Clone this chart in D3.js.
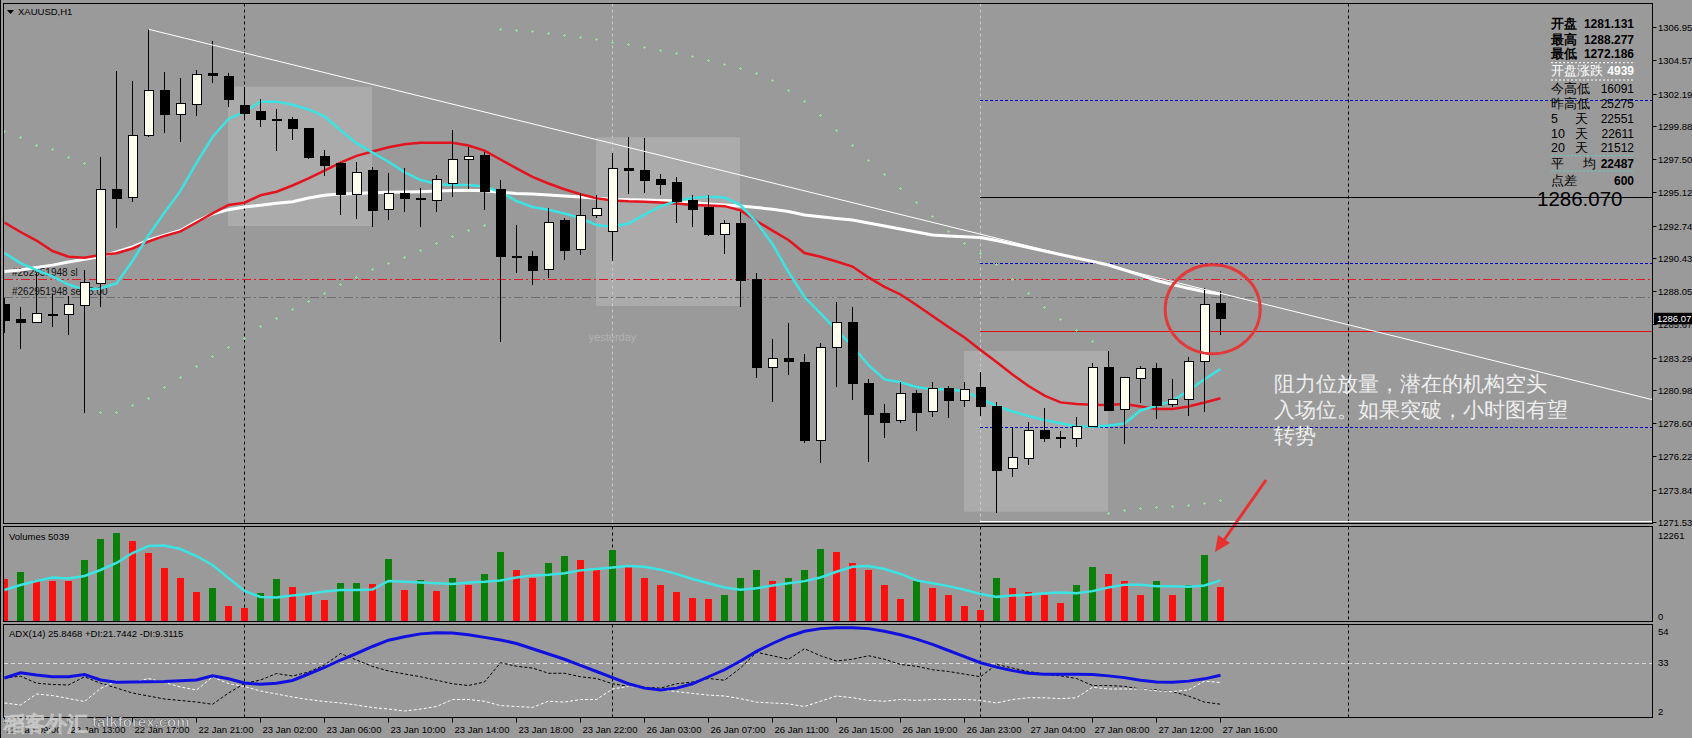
<!DOCTYPE html>
<html><head><meta charset="utf-8">
<script src="https://cdn.jsdelivr.net/npm/d3@7/dist/d3.min.js"></script>
<style>
html,body{margin:0;padding:0;background:#9a9a9a;overflow:hidden;}
svg{display:block;}
text{font-family:"Liberation Sans",Arial,sans-serif;}
</style></head>
<body>
<svg id="chart" width="1692" height="738"></svg>
<script>
// ---------------- DATA ----------------
const opens=[1287.06,1286.03,1285.82,1286.41,1286.39,1287.01,1288.61,1295.34,1294.76,1299.17,
1302.42,1300.67,1301.42,1303.62,1303.44,1301.30,1300.87,1300.35,1300.30,1299.70,
1297.65,1297.15,1294.93,1296.65,1293.91,1295.05,1294.66,1294.57,1295.77,1297.48,
1297.72,1295.29,1290.52,1290.56,1289.61,1293.07,1291.04,1293.45,1292.33,1296.84,
1296.65,1296.07,1295.79,1294.50,1294.02,1292.12,1292.90,1288.85,1282.60,1283.24,
1282.96,1277.35,1284.03,1285.82,1281.46,1279.26,1278.78,1280.74,1279.42,1281.10,
1280.21,1281.13,1279.83,1275.37,1276.09,1278.06,1277.53,1277.52,1278.35,1282.55,
1279.59,1281.81,1282.53,1279.95,1280.31,1283.00,1287.18];
const highs=[1287.56,1286.94,1289.33,1287.85,1287.70,1289.56,1297.67,1303.82,1303.09,1306.79,
1303.71,1303.32,1303.87,1305.95,1303.64,1302.68,1301.82,1301.06,1300.49,1299.72,
1298.15,1297.31,1297.31,1296.95,1296.48,1296.84,1295.41,1296.36,1299.58,1298.39,
1298.03,1296.00,1292.78,1290.94,1294.02,1293.26,1295.09,1294.93,1297.91,1299.10,
1298.99,1296.43,1296.20,1294.93,1294.93,1293.14,1293.73,1289.33,1284.60,1285.79,
1283.55,1284.32,1287.29,1286.89,1281.74,1279.97,1281.57,1280.98,1281.53,1281.28,
1281.53,1282.29,1280.14,1278.24,1278.71,1279.67,1278.04,1279.02,1282.89,1283.77,
1281.90,1282.69,1282.93,1281.76,1283.36,1288.28,1288.06];
const lows=[1285.05,1283.89,1285.75,1285.46,1284.91,1279.31,1286.94,1292.55,1294.45,1299.10,
1299.34,1298.74,1300.58,1302.96,1301.25,1300.30,1299.82,1298.10,1298.86,1297.48,
1296.31,1293.50,1293.21,1292.66,1293.14,1293.73,1292.66,1293.73,1294.81,1295.34,
1293.86,1284.43,1289.33,1288.49,1288.97,1290.28,1290.64,1293.26,1290.21,1295.00,
1295.09,1294.93,1292.90,1292.66,1292.02,1290.71,1286.94,1281.81,1280.14,1282.03,
1277.16,1275.77,1281.21,1280.26,1275.84,1277.52,1278.64,1278.06,1279.06,1278.95,
1279.74,1279.12,1272.19,1274.77,1275.61,1277.28,1276.80,1276.92,1278.31,1279.49,
1277.11,1280.07,1278.90,1279.78,1279.14,1279.38,1284.91];
const closes=[1285.98,1285.82,1286.46,1286.38,1287.11,1288.68,1295.34,1294.69,1299.17,1302.42,
1300.67,1301.46,1303.57,1303.50,1301.73,1300.75,1300.35,1300.30,1299.67,1297.60,
1297.05,1294.98,1296.52,1293.81,1295.05,1294.69,1294.62,1296.05,1297.48,1297.70,
1295.17,1290.51,1290.55,1289.51,1292.98,1290.94,1293.48,1293.98,1296.84,1296.67,
1295.95,1295.67,1294.45,1293.91,1292.07,1292.90,1288.80,1282.60,1283.24,1283.03,
1277.35,1284.03,1285.82,1281.46,1279.19,1278.66,1280.74,1279.35,1281.10,1280.21,
1280.98,1279.78,1275.20,1276.16,1278.06,1277.47,1277.58,1278.35,1282.60,1279.54,
1281.88,1282.53,1279.85,1280.31,1283.00,1287.11,1286.07];

// moving averages (price)
const maFast=[1290.78,1290.06,1289.56,1289.10,1288.52,1288.17,1288.24,1288.60,1290.21,1292.03,
1293.68,1295.22,1297.22,1299.08,1300.37,1300.87,1301.61,1301.61,1301.39,1301.05,
1300.55,1299.56,1298.64,1297.96,1297.31,1296.57,1296.00,1295.72,1295.64,1295.64,
1295.54,1295.14,1294.50,1294.07,1293.87,1293.61,1293.28,1292.78,1292.66,1292.89,
1293.53,1294.11,1294.50,1294.71,1294.80,1294.75,1294.21,1293.00,1291.42,1289.42,
1287.63,1286.45,1285.27,1284.12,1282.76,1281.73,1281.53,1281.19,1281.01,1281.05,
1280.87,1280.37,1279.83,1279.44,1279.12,1278.83,1278.59,1278.39,1278.35,1278.44,
1278.58,1279.51,1279.85,1280.20,1280.94,1281.74,1282.48];
const maMid=[1292.96,1292.28,1291.67,1290.92,1290.51,1290.44,1290.64,1290.76,1291.10,1291.60,
1292.00,1292.32,1292.96,1293.61,1294.21,1294.38,1294.91,1295.16,1295.61,1296.12,
1296.68,1297.25,1297.73,1298.04,1298.34,1298.56,1298.67,1298.67,1298.66,1298.47,
1298.11,1297.47,1296.83,1296.22,1295.75,1295.34,1294.98,1294.69,1294.54,1294.48,
1294.45,1294.40,1294.32,1294.21,1294.18,1294.13,1293.83,1293.07,1292.38,1291.71,
1290.78,1290.51,1290.17,1289.81,1289.03,1288.35,1287.81,1287.06,1286.27,1285.48,
1284.73,1283.84,1282.98,1282.08,1281.26,1280.58,1280.09,1279.97,1279.92,1279.90,
1279.97,1279.79,1279.62,1279.62,1279.79,1280.08,1280.38];
const maSlow=[1289.45,1289.56,1289.74,1289.91,1290.13,1290.33,1290.52,1290.86,1291.21,1291.69,
1292.05,1292.39,1293.05,1293.57,1293.88,1294.07,1294.20,1294.34,1294.45,1294.72,
1294.91,1295.00,1295.04,1295.09,1295.12,1295.14,1295.17,1295.22,1295.25,1295.27,
1295.23,1295.12,1295.04,1295.00,1294.93,1294.86,1294.79,1294.70,1294.63,1294.59,
1294.57,1294.54,1294.51,1294.39,1294.29,1294.21,1294.14,1294.03,1293.91,1293.75,
1293.50,1293.37,1293.25,1293.14,1292.93,1292.71,1292.50,1292.28,1292.07,1292.00,
1291.94,1291.89,1291.67,1291.42,1291.17,1290.92,1290.67,1290.42,1290.18,1289.92,
1289.56,1289.20,1288.81,1288.52,1288.25,1288.01,1287.85];
const sar=[1299.53,1299.06,1298.49,1298.20,1297.67,1297.20,1279.38,1279.38,1279.90,1280.42,
1281.17,1281.93,1282.71,1283.41,1284.07,1284.67,1285.56,1286.15,1286.75,1287.34,
1287.94,1288.54,1289.08,1289.61,1290.08,1290.47,1290.99,1291.52,1292.00,1292.42,
1292.76,1306.81,1306.74,1306.63,1306.52,1306.38,1306.23,1306.06,1305.88,1305.70,
1305.52,1305.30,1305.09,1304.84,1304.59,1304.30,1304.02,1303.66,1303.16,1302.44,
1301.66,1300.65,1299.58,1298.51,1297.43,1296.43,1295.43,1294.43,1293.43,1292.37,
1291.47,1290.76,1289.97,1288.90,1287.94,1286.94,1286.08,1285.27,1284.50,1272.15,
1272.39,1272.51,1272.58,1272.68,1272.75,1272.91,1273.10];

const volumes=[5795,6815,5656,5558,5530,8449,11381,12261,11144,9468,
7373,5977,4022,4580,2025,1704,3882,5837,4720,3743,
2863,5195,5279,5139,8630,4200,5600,4100,6000,5000,
6500,9500,7000,6000,8000,9000,8500,7000,9800,7500,
6000,5000,4000,3200,3000,3500,6000,7000,5500,6000,
7000,10000,9500,8000,7000,5000,3000,5500,4500,3500,
2000,1500,6000,4500,4000,3500,2500,5000,7500,6500,
5500,3500,5500,3500,5000,9200,4700];
const volMA=[4259,4958,5516,6005,5865,6214,7052,8030,9426,10404,
10474,9985,9007,7751,5935,4120,3282,3212,3491,3701,
4050,4259,4259,4329,5516,5400,5300,5200,5100,5300,
5400,5600,6000,6300,6400,6600,7000,7200,7400,7600,
7500,7100,6500,5800,5200,4600,4300,4500,4900,5200,
5500,6000,6800,7500,7600,7200,6500,5600,5200,4800,
4300,3700,3300,3500,3600,3800,3900,3800,4100,4600,
5000,5000,4800,4800,4700,4900,5600];

const adxMain=[24.29,27.31,26.00,25.03,25.03,26.29,23.14,21.83,22.00,22.17,
22.29,22.69,23.14,25.60,23.83,21.43,20.69,21.26,22.86,26.57,
30.29,34.57,38.29,42.29,45.89,47.89,49.5,50.2,50.0,49.0,
47.5,46.0,44.0,41.0,38.0,35.0,31.5,28.0,24.5,21.0,
18.5,17.5,18.5,21.0,25.0,29.0,34.0,39.5,44.0,48.0,
51.0,52.5,53.0,53.0,52.5,51.0,49.0,46.5,43.5,40.0,
36.5,33.0,30.5,28.5,27.0,26.5,26.5,26.5,26.3,25.5,
24.5,23.0,22.0,21.8,22.5,23.8,25.85];
const diPlus=[10.0,8.86,15.14,14.29,12.57,10.86,18.29,22.57,21.71,24.0,
21.71,19.14,17.43,24.86,21.14,19.43,16.86,15.14,13.43,12.0,
10.86,10.0,8.86,7.43,6.57,5.43,6.5,8,12,12,
11,8.5,8,7.5,11,10.5,12,12,18,19.5,
18.5,17.5,16.5,15.5,14.5,14,12.5,10.5,10,9.5,
8,11,14,13,11.5,11,12,11.5,12,12,
12,11.5,10,12,13,13,12.5,13,19,18,
18,18,17,16.5,17.5,22.5,21.74];
const diMinus=[24.29,25.31,21.31,20.57,20.29,24.97,21.26,18.57,15.71,14.0,
12.29,11.43,10.57,9.26,15.71,21.14,23.14,26.86,25.43,27.71,
31.71,38.29,34.57,30.86,28.29,26.57,25,23,21,20,
22,33,31,30,27,27,25,24,21,19.5,
19,18.5,21,22,24,23,30,39,37,35,
41,37,34,35,37,35,32,31,29,28,
26.5,25,32,30,28,26.5,25.5,24,20,20,
19.5,18,17.5,16.5,14,10.5,9.31];

const priceTicks=[1306.95,1304.57,1302.19,1299.88,1297.50,1295.12,1292.74,1290.43,1288.05,1285.67,1283.29,1280.98,1278.60,1276.22,1273.84,1271.53];
const xTickBars=[0,4,8,12,16,20,24,28,32,36,40,44,48,52,56,60,64,68,72,76];
const xTickLabels=["22 Jan 09:00","22 Jan 13:00","22 Jan 17:00","22 Jan 21:00","23 Jan 02:00","23 Jan 06:00","23 Jan 10:00","23 Jan 14:00","23 Jan 18:00","23 Jan 22:00","26 Jan 03:00","26 Jan 07:00","26 Jan 11:00","26 Jan 15:00","26 Jan 19:00","26 Jan 23:00","27 Jan 04:00","27 Jan 08:00","27 Jan 12:00","27 Jan 16:00"];
const separatorBars=[15,38,61,84];
const boxFrom=[14,37,60], boxTo=[23,46,69], boxHigh=[1302.68,1299.06,1283.77], boxLow=[1292.71,1286.99,1272.27];
const levelPrices=[1301.73,1294.76,1290.08,1288.94,1287.61,1285.22,1278.35,1271.57];
const levelFrom=[61,61,61,0,0,61,61,61];
const levelKinds=["blue","black","blue","sl","open","red","blue","white"];
const trendBars=[9,103], trendPrices=[1306.79,1280.28];
const infoLabels=["开盘","最高","最低","开盘涨跌","今高低","昨高低","5","10","20","平","点差"];
const infoLabels2=["","","","","","","天","天","天","均",""];
const infoValues=["1281.131","1288.277","1272.186","4939","16091","25275","22551","22611","21512","22487","600"];
const noteLines=["阻力位放量，潜在的机构空头","入场位。如果突破，小时图有望","转势"];
const lastPrice=1286.07, bigPrice="1286.070";
const volMax=12261, adxTicks=[54,33,2];

// ---------------- LAYOUT ----------------
const svg=d3.select('#chart');
const BG="#9a9a9a";
const L=3.5, R=1652.5;
const mainTop=3.5, mainBot=523.5, volTop=526.5, volBot=621.5, adxTop=624.5, adxBot=717.5;
const x=d3.scaleLinear().domain([0,76]).range([4.5,1220.5]);
const yP=d3.scaleLinear().domain([1271.53,1306.95]).range([522,27]);
const yV=d3.scaleLinear().domain([0,volMax]).range([620.5,532.7]);
const yA=d3.scaleLinear().domain([2,54]).range([717,626]);
const idx=d3.range(opens.length);

svg.append('rect').attr('width',1692).attr('height',738).attr('fill',BG);
const defs=svg.append('defs');
function clip(id,y0,y1){defs.append('clipPath').attr('id',id).append('rect').attr('x',4).attr('y',y0).attr('width',1648).attr('height',y1-y0);}
clip('cm',4,523);clip('cv',527,621);clip('ca',625,717);

// ---------- MAIN ----------
const gm=svg.append('g').attr('clip-path','url(#cm)');
gm.selectAll('rect.box').data(boxFrom).join('rect')
 .attr('x',(d,i)=>x(boxFrom[i])-0.5).attr('width',(d,i)=>x(boxTo[i])-x(boxFrom[i]))
 .attr('y',(d,i)=>yP(boxHigh[i])).attr('height',(d,i)=>yP(boxLow[i])-yP(boxHigh[i]))
 .attr('fill','#ababab');

separatorBars.forEach((b,i)=>{
  gm.append('line').attr('x1',x(b)).attr('x2',x(b)).attr('y1',mainTop).attr('y2',mainBot)
   .attr('stroke',(b===38||b===61)?'#c9c9c9':'#000').attr('stroke-dasharray','3,3');
});
gm.append('text').attr('x',x(38)).attr('y',341).attr('text-anchor','middle').attr('font-size',11).attr('fill','#b3b3b3').text('yesterday');

const levelStyle={blue:{c:'#0000c0',d:'3,2',w:1},black:{c:'#000',d:null,w:1},sl:{c:'#e01828',d:'9,3,2,3',w:1},
 open:{c:'#707070',d:'9,3,2,3',w:1},red:{c:'#e01010',d:null,w:1},white:{c:'#ffffff',d:null,w:1}};
levelPrices.forEach((p,i)=>{
  const s=levelStyle[levelKinds[i]];
  const yy=Math.round(yP(p))+0.5;
  gm.append('line').attr('x1',levelFrom[i]===0?4:x(levelFrom[i])-0.5).attr('x2',R).attr('y1',yy).attr('y2',yy)
   .attr('stroke',s.c).attr('stroke-width',s.w).attr('stroke-dasharray',s.d);
});
gm.append('text').attr('x',12).attr('y',276).attr('font-size',10).attr('fill','#111').text('#262951948 sl');
gm.append('text').attr('x',12).attr('y',295).attr('font-size',10).attr('fill','#111').text('#262951948 sell 5.00');

const line=d3.line().x((d,i)=>x(i)).y(d=>yP(d));
gm.append('path').attr('d',line(maSlow)).attr('fill','none').attr('stroke','#ffffff').attr('stroke-width',3);
gm.append('path').attr('d',line(maMid)).attr('fill','none').attr('stroke','#e3141e').attr('stroke-width',2.5);
gm.append('path').attr('d',line(maFast)).attr('fill','none').attr('stroke','#3de3e3').attr('stroke-width',2.5);

// candles
const gc=gm.append('g').attr('shape-rendering','crispEdges');
gc.selectAll('line.w').data(idx).join('line')
 .attr('x1',i=>x(i)).attr('x2',i=>x(i)).attr('y1',i=>yP(highs[i])).attr('y2',i=>yP(lows[i])).attr('stroke','#000');
gc.selectAll('rect.b').data(idx).join('rect')
 .attr('x',i=>x(i)-4.5).attr('width',9)
 .attr('y',i=>yP(Math.max(opens[i],closes[i])))
 .attr('height',i=>Math.max(1,Math.abs(yP(opens[i])-yP(closes[i]))))
 .attr('fill',i=>closes[i]>=opens[i]?'#fffff0':'#000').attr('stroke','#000');

// SAR
gm.selectAll('path.sar').data(idx).join('path')
 .attr('d',i=>{const cx=x(i),cy=Math.round(yP(sar[i]))+0.5;return `M${cx-1.5},${cy}H${cx+1.5}M${cx},${cy-1.5}V${cy+1.5}`;})
 .attr('stroke','#8fe08f').attr('stroke-width',1).attr('fill','none');

// trendline
gm.append('line').attr('x1',x(trendBars[0])).attr('y1',yP(trendPrices[0])).attr('x2',x(trendBars[1])).attr('y2',yP(trendPrices[1]))
 .attr('stroke','#fff').attr('stroke-width',1);

// annotation
svg.append('ellipse').attr('cx',1212.7).attr('cy',309.3).attr('rx',47.5).attr('ry',44.5).attr('fill','none').attr('stroke','#e23a3a').attr('stroke-width',3);
noteLines.forEach((t,i)=>{
  svg.append('text').attr('x',1274).attr('y',390.5+i*26).attr('font-family','"Noto Sans CJK SC",sans-serif').attr('font-size',21).attr('fill','#eeeeee').text(t);
});
svg.append('line').attr('x1',1266).attr('y1',480).attr('x2',1224).attr('y2',540).attr('stroke','#e83030').attr('stroke-width',3);
svg.append('path').attr('d','M1215,552 L1218,535 L1230,543 Z').attr('fill','#e83030');

// info panel
const rowY=[23.3,39.3,53.3,70,88.3,103.3,118.3,133.3,147.7,163.3,180];
const gi=svg.append('g');
[[62.7,'#ffffff'],[80,'#ffffff'],[155.7,'#5fd0c0'],[171,'#5fd0c0']].forEach(([yy,c])=>{
  gi.append('line').attr('x1',1551).attr('x2',1635).attr('y1',yy).attr('y2',yy).attr('stroke',c).attr('stroke-dasharray','2,2');
});
infoLabels.forEach((t,i)=>{
  const col=i===3?'#ffffff':'#000';
  const cjk=/[\u4e00-\u9fff]/.test(t);
  gi.append('text').attr('x',1551).attr('y',rowY[i]+4.5).attr('font-size',12.5)
    .attr('font-family',cjk?'"Noto Sans CJK SC",sans-serif':'"DejaVu Sans",sans-serif')
    .attr('font-weight',i<3?'bold':'normal').attr('fill',col).text(t);
  if(infoLabels2[i]) gi.append('text').attr('x',i===9?1583:1575).attr('y',rowY[i]+4.5).attr('font-size',12.5)
    .attr('font-family','"Noto Sans CJK SC",sans-serif').attr('fill',col).text(infoLabels2[i]);
  const bold=(i<=3||i>=9);
  gi.append('text').attr('x',1634).attr('y',rowY[i]+4.5).attr('text-anchor','end').attr('font-size',12)
    .attr('font-family','"DejaVu Sans",sans-serif').attr('font-weight',bold?'bold':'normal').attr('fill',col).text(infoValues[i]);
});
gi.append('text').attr('x',1537).attr('y',205.5).attr('font-size',20.5).attr('fill','#000').text(bigPrice);

// top-left title
svg.append('path').attr('d','M7,10 L14,10 L10.5,14 Z').attr('fill','#000');
svg.append('text').attr('x',18).attr('y',15).attr('font-size',9.5).attr('fill','#000').text('XAUUSD,H1');

// ---------- VOLUME ----------
const gv=svg.append('g').attr('clip-path','url(#cv)');
separatorBars.forEach(b=>gv.append('line').attr('x1',x(b)).attr('x2',x(b)).attr('y1',volTop).attr('y2',volBot).attr('stroke','#000').attr('stroke-dasharray','3,3'));
gv.selectAll('rect.v').data(idx).join('rect').attr('shape-rendering','crispEdges')
 .attr('x',i=>x(i)-3.5).attr('width',7).attr('y',i=>yV(volumes[i])).attr('height',i=>yV(0)-yV(volumes[i]))
 .attr('fill',i=>(i>0&&volumes[i]>volumes[i-1])?'#0a800a':'#ff1010');
gv.append('path').attr('d',d3.line().x((d,i)=>x(i)).y(d=>yV(d))(volMA)).attr('fill','none').attr('stroke','#3de3e3').attr('stroke-width',2.5);
svg.append('text').attr('x',9).attr('y',540).attr('font-size',9.5).attr('fill','#000').text('Volumes 5039');

// ---------- ADX ----------
const ga=svg.append('g').attr('clip-path','url(#ca)');
separatorBars.forEach(b=>ga.append('line').attr('x1',x(b)).attr('x2',x(b)).attr('y1',adxTop).attr('y2',adxBot).attr('stroke','#000').attr('stroke-dasharray','3,3'));
ga.append('line').attr('x1',4).attr('x2',R).attr('y1',Math.round(yA(33))+0.5).attr('y2',Math.round(yA(33))+0.5).attr('stroke','#dcdcdc').attr('stroke-dasharray','4,3');
const la=d3.line().x((d,i)=>x(i)).y(d=>yA(d));
ga.append('path').attr('d',la(diMinus)).attr('fill','none').attr('stroke','#000').attr('stroke-width',1).attr('stroke-dasharray','3,2');
ga.append('path').attr('d',la(diPlus)).attr('fill','none').attr('stroke','#fff').attr('stroke-width',1).attr('stroke-dasharray','3,2');
ga.append('path').attr('d',la(adxMain)).attr('fill','none').attr('stroke','#1010e0').attr('stroke-width',3);
svg.append('text').attr('x',9).attr('y',637).attr('font-size',9.5).attr('fill','#000').text('ADX(14) 25.8468 +DI:21.7442 -DI:9.3115');

// ---------- FRAMES & AXES ----------
const gf=svg.append('g').attr('shape-rendering','crispEdges').attr('stroke','#000').attr('fill','none');
gf.append('rect').attr('x',L).attr('y',mainTop).attr('width',R-L).attr('height',mainBot-mainTop);
gf.append('rect').attr('x',L).attr('y',volTop).attr('width',R-L).attr('height',volBot-volTop);
gf.append('rect').attr('x',L).attr('y',adxTop).attr('width',R-L).attr('height',adxBot-adxTop);
gf.append('line').attr('x1',0.5).attr('x2',0.5).attr('y1',0).attr('y2',738);

const ga2=svg.append('g');
priceTicks.forEach(p=>{
  const yy=Math.round(yP(p))+0.5;
  ga2.append('line').attr('x1',R).attr('x2',R+4).attr('y1',yy).attr('y2',yy).attr('stroke','#000');
  ga2.append('text').attr('x',1658).attr('y',yy+3.5).attr('font-size',9.5).attr('fill','#000').text(p.toFixed(2));
});
const ly=yP(lastPrice);
ga2.append('rect').attr('x',1654).attr('y',ly-6).attr('width',38).attr('height',11.5).attr('fill','#000');
ga2.append('text').attr('x',1657).attr('y',ly+3.5).attr('font-size',9.5).attr('fill','#fff').text(lastPrice.toFixed(2));
ga2.append('text').attr('x',1658).attr('y',538.5).attr('font-size',9.5).text(String(volMax));
ga2.append('text').attr('x',1658).attr('y',619.5).attr('font-size',9.5).text('0');
[[54,635],[33,666],[2,715]].forEach(([v,yy])=>ga2.append('text').attr('x',1658).attr('y',yy).attr('font-size',9.5).text(String(v)));

xTickBars.forEach((b,i)=>{
  ga2.append('line').attr('x1',x(b)).attr('x2',x(b)).attr('y1',adxBot).attr('y2',adxBot+5).attr('stroke','#000');
  ga2.append('text').attr('x',x(b)+2).attr('y',733).attr('font-size',9.5).attr('fill','#000').text(xTickLabels[i]);
});

// watermark (sits over the first time labels, as in the reference)
svg.append('text').attr('x',4).attr('y',731).attr('font-family','"Noto Sans CJK SC",sans-serif').attr('font-weight','bold')
 .attr('font-size',21).attr('fill','#555').attr('stroke','#d0d0d0').attr('stroke-width',0.6).attr('opacity',0.85).text('稻客外汇');
svg.append('text').attr('x',92).attr('y',727).attr('font-weight','bold').attr('font-size',15)
 .attr('fill','#e8e8e8').attr('stroke','#444').attr('stroke-width',0.5).attr('opacity',0.9).text('talkforex.com');
</script>
</body></html>
